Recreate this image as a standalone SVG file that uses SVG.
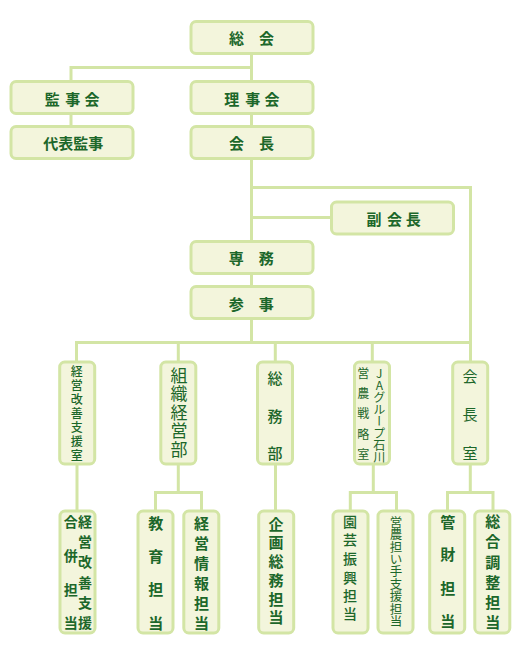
<svg xmlns="http://www.w3.org/2000/svg" width="520" height="655" viewBox="0 0 520 655">
<style>
.box{fill:#f3f5dc;stroke:#d3e5a5;stroke-width:3}
.con{fill:none;stroke:#d3e5a5;stroke-width:3}
text{font-family:"Noto Sans CJK JP","Noto Sans",sans-serif;fill:#1c672a;text-anchor:middle}
.b{font-weight:700;font-size:15px}
.m{font-weight:500}
</style>
<rect width="520" height="655" fill="#ffffff"/>
<g id="connectors">
<path class="con" d="M251.5 55V81M71 81V67.5H251.5M71 115V126M251.5 115V126M251.5 160V241M251.5 187.5H470.5V342.5M251.5 217.5H331M251.5 275V286M251.5 320V342.5"/>
<path class="con" d="M76.5 362V342.5H470.5V362M178.3 342.5V362M275.3 342.5V362M372.3 342.5V362"/>
<path class="con" d="M77 465V511M178.3 465V492.5M155.5 511V492.5H201.5V511M275.5 465V511M373.3 465V492.5M350.3 511V492.5H396.5V511M470.3 465V492.5M447.5 511V492.5H493V511"/>
</g>
<g id="soukai"><rect class="box" x="191" y="21.5" width="122" height="32" rx="5"/><text class="b" x="251.5" y="44.3">総　会</text></g>
<g id="kanjikai"><rect class="box" x="11" y="81.5" width="122" height="32" rx="5"/><text class="b" x="52.2 72.8 92" y="104.7">監事会</text></g>
<g id="daihyokanji"><rect class="box" x="11" y="126.5" width="122" height="32" rx="5"/><text class="b" x="73.3" y="149.4">代表監事</text></g>
<g id="rijikai"><rect class="box" x="191" y="81.5" width="122" height="32" rx="5"/><text class="b" x="231.7 252.8 272" y="104.7">理事会</text></g>
<g id="kaicho"><rect class="box" x="191" y="126.5" width="122" height="32" rx="5"/><text class="b" x="251.5" y="149.4">会　長</text></g>
<g id="fukukaicho"><rect class="box" x="331.5" y="202" width="122" height="32" rx="5"/><text class="b" x="374 394.5 413.2" y="224.9">副会長</text></g>
<g id="senmu"><rect class="box" x="191" y="241.5" width="122" height="32" rx="5"/><text class="b" x="251.3" y="264">専　務</text></g>
<g id="sanji"><rect class="box" x="191" y="286.5" width="122" height="32" rx="5"/><text class="b" x="251.3" y="309.5">参　事</text></g>

<g id="keiei-kaizen-shienshitsu"><rect class="box" x="59.7" y="362" width="35" height="102" rx="5"/><text class="m" font-size="12" x="76.8 76.8 76.8 76.8 76.8 76.8 76.8" y="376.3 390.2 404.1 418 431.9 445.8 459.7">経営改善支援室</text></g>
<g id="soshiki-keieibu"><rect class="box" x="160.8" y="362" width="35" height="102" rx="5"/><text font-size="17" x="179 179 179 179 179" y="381.8 400.3 418.8 437.3 455.8">組織経営部</text></g>
<g id="somubu"><rect class="box" x="257.5" y="362" width="35" height="102" rx="5"/><text class="m" font-size="15" x="275 275 275" y="383.7 422.4 458.5">総務部</text></g>
<g id="einou-senryakushitsu"><rect class="box" x="354.5" y="362" width="35" height="102" rx="5"/><text font-size="12" x="379.3" y="367.5" style="writing-mode:vertical-rl;text-orientation:upright;text-anchor:start">JAグループ石川</text><text font-size="12" x="363.3 363.3 363.3 363.3 363.3" y="377.6 397.6 418.1 438.6 458.6">営農戦略室</text></g>
<g id="kaichoshitsu"><rect class="box" x="452.7" y="362" width="35" height="102" rx="5"/><text font-size="15" x="470 470 470" y="382.2 419.7 458.7">会長室</text></g>

<g id="gappei-tanto"><rect class="box" x="60" y="511" width="35" height="122" rx="5"/><text class="b" style="font-size:14px" x="85 85 85 85 85 85" y="526.8 547.1 567.3 587.6 607.9 628.3">経営改善支援</text><text class="b" style="font-size:14px" x="70.7 70.7 70.7 70.7" y="527.3 560.8 594.8 627.6">合併担当</text></g>
<g id="kyoiku-tanto"><rect class="box" x="138" y="511" width="35" height="122" rx="5"/><text class="b" x="155.7 155.7 155.7 155.7" y="529 562.4 595 628.7">教育担当</text></g>
<g id="keiei-joho-tanto"><rect class="box" x="183.8" y="511" width="35" height="122" rx="5"/><text class="b" x="201.5 201.5 201.5 201.5 201.5 201.5" y="529 549 569 589 609 629">経営情報担当</text></g>
<g id="kikaku-somu-tanto"><rect class="box" x="258.7" y="511" width="35" height="122" rx="5"/><text class="b" x="276 276 276 276 276 276" y="529.7 548.4 567.1 585.7 604.5 623.2">企画総務担当</text></g>
<g id="engei-shinko-tanto"><rect class="box" x="333" y="511" width="35" height="122" rx="5"/><text class="m" font-size="14" x="350 350 350 350 350 350" y="527 545.3 564.3 583 601.3 618.6">園芸振興担当</text></g>
<g id="einou-ninaite-tanto"><rect class="box" x="378" y="511" width="35" height="122" rx="5"/><text font-size="12.5" x="396 396 396 396 396 396 396 396 396" y="526.75 539.15 551.55 563.95 576.35 588.75 601.15 613.55 625.95">営農担い手支援担当</text></g>
<g id="kanzai-tanto"><rect class="box" x="429.7" y="511" width="35" height="122" rx="5"/><text class="b" x="447.7 447.7 447.7 447.7" y="527.7 559.7 594 627.4">管財担当</text></g>
<g id="sogo-chosei-tanto"><rect class="box" x="474.8" y="511" width="35" height="122" rx="5"/><text class="b" x="492.7 492.7 492.7 492.7 492.7 492.7" y="527.4 547.4 567.7 587.7 608.2 627.7">総合調整担当</text></g>
</svg>
